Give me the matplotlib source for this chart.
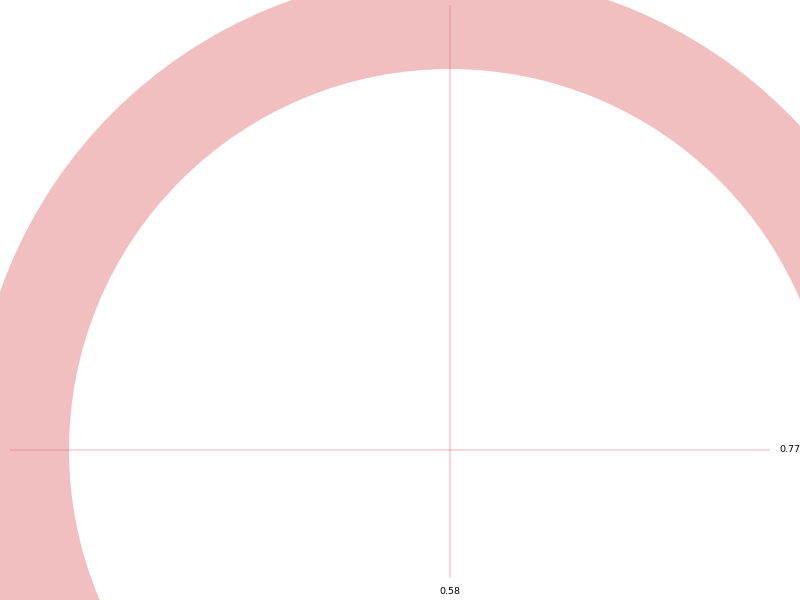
import matplotlib
matplotlib.use("Agg")
import matplotlib.pyplot as plt
from matplotlib.patches import Wedge

# data
center = (450, 450)
outer_radius = 477
inner_radius = 381
x_value_label = "0.58"
y_value_label = "0.77"

fig = plt.figure(figsize=(8, 6), dpi=100)
ax = fig.add_axes([0, 0, 1, 1])
ax.set_xlim(0, 800)
ax.set_ylim(600, 0)
ax.set_aspect("equal")
ax.axis("off")

ring = Wedge(center, outer_radius, 0, 360, width=outer_radius - inner_radius,
             facecolor="#f1bfbf", edgecolor="none")
ax.add_patch(ring)

line_col = "#e0707a"
ax.plot([center[0], center[0]], [5, 578], color=line_col, alpha=0.28, lw=1.5, solid_capstyle="butt")
ax.plot([10, 770], [center[1], center[1]], color=line_col, alpha=0.28, lw=1.5, solid_capstyle="butt")

ax.text(779, center[1], y_value_label, fontsize=6.8, ha="left", va="center", color="black")
ax.text(center[0], 592, x_value_label, fontsize=6.8, ha="center", va="center", color="black")

fig.savefig("out.png", dpi=100)
